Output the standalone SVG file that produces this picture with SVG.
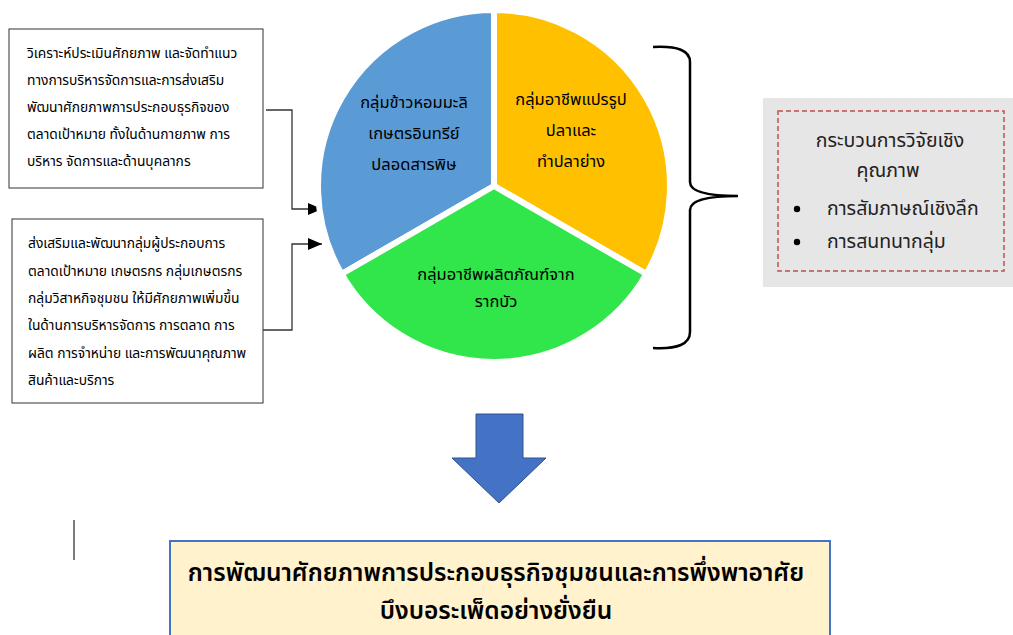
<svg xmlns="http://www.w3.org/2000/svg" width="1013" height="635" viewBox="0 0 1013 635">
<defs>
<marker id="ah" markerWidth="14" markerHeight="12" refX="14" refY="6" orient="auto" markerUnits="userSpaceOnUse">
<path d="M0 0 L14 6 L0 12 Z" fill="#000"/>
</marker>
<style>
text{font-family:"Noto Sans Thai","Tahoma","Loma","Garuda","Noto Sans","DejaVu Sans",sans-serif;fill:#000}
.box{fill:#fff;stroke:#333;stroke-width:1}
.t{font-size:13.8px}
.pie{font-size:16.5px;text-anchor:middle}
.g{font-size:19.5px;fill:#222}
.big{font-size:24.5px;font-weight:600;text-anchor:middle}
.conn{fill:none;stroke:#333;stroke-width:1.3}
</style>
</defs>
<rect width="1013" height="635" fill="#fff"/>

<g id="box1">
<rect class="box" x="9" y="29" width="254" height="159"/>
<text class="t" x="27" y="58">วิเคราะห์ประเมินศักยภาพ และจัดทำแนว</text>
<text class="t" x="27" y="85">ทางการบริหารจัดการและการส่งเสริม</text>
<text class="t" x="27" y="112">พัฒนาศักยภาพการประกอบธุรกิจของ</text>
<text class="t" x="27" y="139">ตลาดเป้าหมาย ทั้งในด้านกายภาพ การ</text>
<text class="t" x="27" y="166">บริหาร จัดการและด้านบุคลากร</text>
</g>

<g id="box2">
<rect class="box" x="12" y="219" width="251" height="184"/>
<text class="t" x="28" y="248">ส่งเสริมและพัฒนากลุ่มผู้ประกอบการ</text>
<text class="t" x="28" y="276">ตลาดเป้าหมาย เกษตรกร กลุ่มเกษตรกร</text>
<text class="t" x="28" y="303">กลุ่มวิสาหกิจชุมชน ให้มีศักยภาพเพิ่มขึ้น</text>
<text class="t" x="28" y="330">ในด้านการบริหารจัดการ การตลาด การ</text>
<text class="t" x="28" y="358">ผลิต การจำหน่าย และการพัฒนาคุณภาพ</text>
<text class="t" x="28" y="385">สินค้าและบริการ</text>
</g>

<g id="connectors">
<path class="conn" d="M266 110 H292 V209 H322" marker-end="url(#ah)"/>
<path class="conn" d="M263 330 H292 V244 H322" marker-end="url(#ah)"/>
</g>

<g id="pie">
<g id="slice-blue">
<path d="M494 186 L494 10 A176 176 0 0 0 341.6 274 Z" fill="#5B9BD5" stroke="#fff" stroke-width="6" stroke-linejoin="round"/>
<text class="pie" x="414" y="108">กลุ่มข้าวหอมมะลิ</text>
<text class="pie" x="414" y="139">เกษตรอินทรีย์</text>
<text class="pie" x="414" y="170">ปลอดสารพิษ</text>
</g>
<g id="slice-yellow">
<path d="M494 186 L494 10 A176 176 0 0 1 646.4 274 Z" fill="#FFC000" stroke="#fff" stroke-width="6" stroke-linejoin="round"/>
<text class="pie" x="571" y="105">กลุ่มอาชีพแปรรูป</text>
<text class="pie" x="571" y="136">ปลาและ</text>
<text class="pie" x="571" y="167">ทำปลาย่าง</text>
</g>
<g id="slice-green">
<path d="M494 186 L646.4 274 A176 176 0 0 1 341.6 274 Z" fill="#30E64A" stroke="#fff" stroke-width="6" stroke-linejoin="round"/>
<text class="pie" x="496" y="280">กลุ่มอาชีพผลิตภัณฑ์จาก</text>
<text class="pie" x="496" y="307">รากบัว</text>
</g>
</g>

<g id="brace">
<path d="M653 47 Q690 45 690 62 V182 Q690 196 738 196 Q690 196 690 210 V332 Q690 350 653 348" fill="none" stroke="#000" stroke-width="2.5"/>
</g>

<g id="method">
<rect x="763" y="98" width="250" height="189" fill="#E7E6E6"/>
<rect x="778" y="111" width="226" height="160" fill="none" stroke="#C0504D" stroke-width="1.5" stroke-dasharray="5 3"/>
<text class="g" x="890" y="147" text-anchor="middle">กระบวนการวิจัยเชิง</text>
<text class="g" x="888" y="177" text-anchor="middle">คุณภาพ</text>
<circle cx="797" cy="209" r="3.2" fill="#000"/>
<text class="g" x="827" y="215">การสัมภาษณ์เชิงลึก</text>
<circle cx="797" cy="242" r="3.2" fill="#000"/>
<text class="g" x="827" y="248">การสนทนากลุ่ม</text>
</g>

<g id="down-arrow">
<path d="M476 414 H523 V458 H546 L499 503 L452 458 H476 Z" fill="#4472C4" stroke="#2F528F" stroke-width="1"/>
</g>

<line x1="74" y1="520" x2="74" y2="560" stroke="#333" stroke-width="1.3"/>

<g id="result">
<rect x="170" y="541" width="660" height="100" fill="#FFF2CC" stroke="#4472C4" stroke-width="2"/>
<text class="big" x="496" y="581">การพัฒนาศักยภาพการประกอบธุรกิจชุมชนและการพึ่งพาอาศัย</text>
<text class="big" x="496" y="619">บึงบอระเพ็ดอย่างยั่งยืน</text>
</g>
</svg>
